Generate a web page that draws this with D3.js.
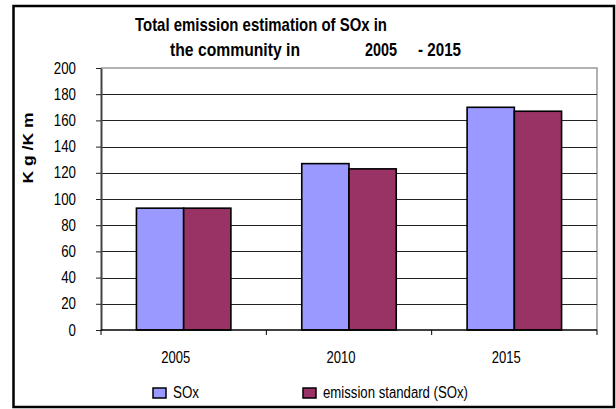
<!DOCTYPE html>
<html>
<head>
<meta charset="utf-8">
<script src="https://cdn.jsdelivr.net/npm/d3@7"></script>
<style>
  html, body { margin: 0; padding: 0; background: #fff; }
  svg { display: block; }
  text { font-family: "Liberation Sans", Arial, sans-serif; fill: #000; }
</style>
</head>
<body>
<svg id="chart" width="616" height="409"></svg>
<script>
const categories = ["2005", "2010", "2015"];
const seriesNames = ["SOx", "emission standard (SOx)"];
const soxValues = [93, 127, 170];
const standardValues = [93, 123, 167];
const yTicks = [0, 20, 40, 60, 80, 100, 120, 140, 160, 180, 200];
const colors = ["#9999FF", "#993366"];

const data = categories.map((c, i) => ({ cat: c, vals: [soxValues[i], standardValues[i]] }));

const svg = d3.select("#chart");
const L = 101, R = 597, T = 68, B = 330;

// outer frame
svg.append("rect").attr("x", 13.5).attr("y", 6).attr("width", 600.5).attr("height", 401)
  .attr("fill", "none").attr("stroke", "#000").attr("stroke-width", 2.5);

const x0 = d3.scaleBand().domain(categories).range([L, R]).paddingInner(0).paddingOuter(0);
const x1 = d3.scaleBand().domain(d3.range(seriesNames.length)).range([0, x0.bandwidth()]).paddingInner(0).paddingOuter(0.75);
const y = d3.scaleLinear().domain([0, 200]).range([B, T]);

// plot border (top & right) gray
svg.append("path").attr("d", `M${L},${T}H${R}V${B}`).attr("fill", "none").attr("stroke", "#999").attr("stroke-width", 1.5);

// gridlines
svg.append("g").selectAll("line").data(yTicks.filter(v => v > 0 && v < 200)).join("line")
  .attr("x1", L).attr("x2", R).attr("y1", d => Math.round(y(d)) + 0.5).attr("y2", d => Math.round(y(d)) + 0.5)
  .attr("stroke", "#222").attr("stroke-width", 1);

// bars
const g = svg.append("g").selectAll("g").data(data).join("g")
  .attr("transform", d => `translate(${x0(d.cat)},0)`);
g.selectAll("rect").data(d => d.vals.map((v, i) => ({ v, i }))).join("rect")
  .attr("x", d => x1(d.i)).attr("width", x1.bandwidth())
  .attr("y", d => y(d.v)).attr("height", d => y(0) - y(d.v))
  .attr("fill", d => colors[d.i]).attr("stroke", "#000").attr("stroke-width", 1.6);

// y axis
const yAxis = svg.append("g").attr("transform", `translate(${L},0)`)
  .call(d3.axisLeft(y).tickValues(yTicks).tickSize(5).tickSizeOuter(0).tickPadding(20));
yAxis.select(".domain").attr("stroke", "#444").attr("stroke-width", 2);
yAxis.selectAll(".tick line").attr("stroke", "#222");
yAxis.selectAll("text").attr("font-size", 16).attr("font-family", "Liberation Sans, Arial, sans-serif")
  .attr("textLength", d => String(d).length * 7.4).attr("lengthAdjust", "spacingAndGlyphs");

// x axis
const xAxisG = svg.append("g");
xAxisG.append("line").attr("x1", L).attr("x2", R).attr("y1", B).attr("y2", B).attr("stroke", "#000").attr("stroke-width", 1.5);
const boundaries = categories.map(c => x0(c)).concat([R]);
xAxisG.selectAll("line.tk").data(boundaries).join("line").attr("class", "tk")
  .attr("x1", d => d).attr("x2", d => d).attr("y1", B).attr("y2", B + 5).attr("stroke", "#000").attr("stroke-width", 1);
xAxisG.selectAll("text").data(categories).join("text")
  .attr("x", d => x0(d) + x0.bandwidth() / 2 - 8).attr("y", 363)
  .attr("text-anchor", "middle").attr("font-size", 16)
  .attr("textLength", 29).attr("lengthAdjust", "spacingAndGlyphs").text(d => d);

// y axis title
svg.append("text").attr("transform", "translate(33,148) rotate(-90)")
  .attr("text-anchor", "middle").attr("font-size", 14).attr("font-weight", "bold")
  .attr("textLength", 71).attr("lengthAdjust", "spacingAndGlyphs").text("K g /K m");

// title
svg.append("text").attr("x", 135).attr("y", 31).attr("font-size", 19).attr("font-weight", "bold")
  .attr("textLength", 252).attr("lengthAdjust", "spacingAndGlyphs").text("Total emission estimation of SOx in");
svg.append("text").attr("x", 170).attr("y", 56).attr("font-size", 19).attr("font-weight", "bold")
  .attr("textLength", 130).attr("lengthAdjust", "spacingAndGlyphs").text("the community in");
svg.append("text").attr("x", 365).attr("y", 56).attr("font-size", 19).attr("font-weight", "bold")
  .attr("textLength", 32).attr("lengthAdjust", "spacingAndGlyphs").text("2005");
svg.append("text").attr("x", 418).attr("y", 56).attr("font-size", 19).attr("font-weight", "bold")
  .attr("textLength", 43).attr("lengthAdjust", "spacingAndGlyphs").text("- 2015");

// legend
const legendX = [153, 303];
const legendTextLen = [26, 145];
const lg = svg.append("g").selectAll("g").data(seriesNames).join("g")
  .attr("transform", (d, i) => `translate(${legendX[i]},0)`);
lg.append("rect").attr("x", 0).attr("y", 388).attr("width", 13).attr("height", 10)
  .attr("fill", (d, i) => colors[i]).attr("stroke", "#000").attr("stroke-width", 1.5);
lg.append("text").attr("x", 20).attr("y", 398).attr("font-size", 16)
  .attr("textLength", (d, i) => legendTextLen[i]).attr("lengthAdjust", "spacingAndGlyphs").text(d => d);
</script>
</body>
</html>
